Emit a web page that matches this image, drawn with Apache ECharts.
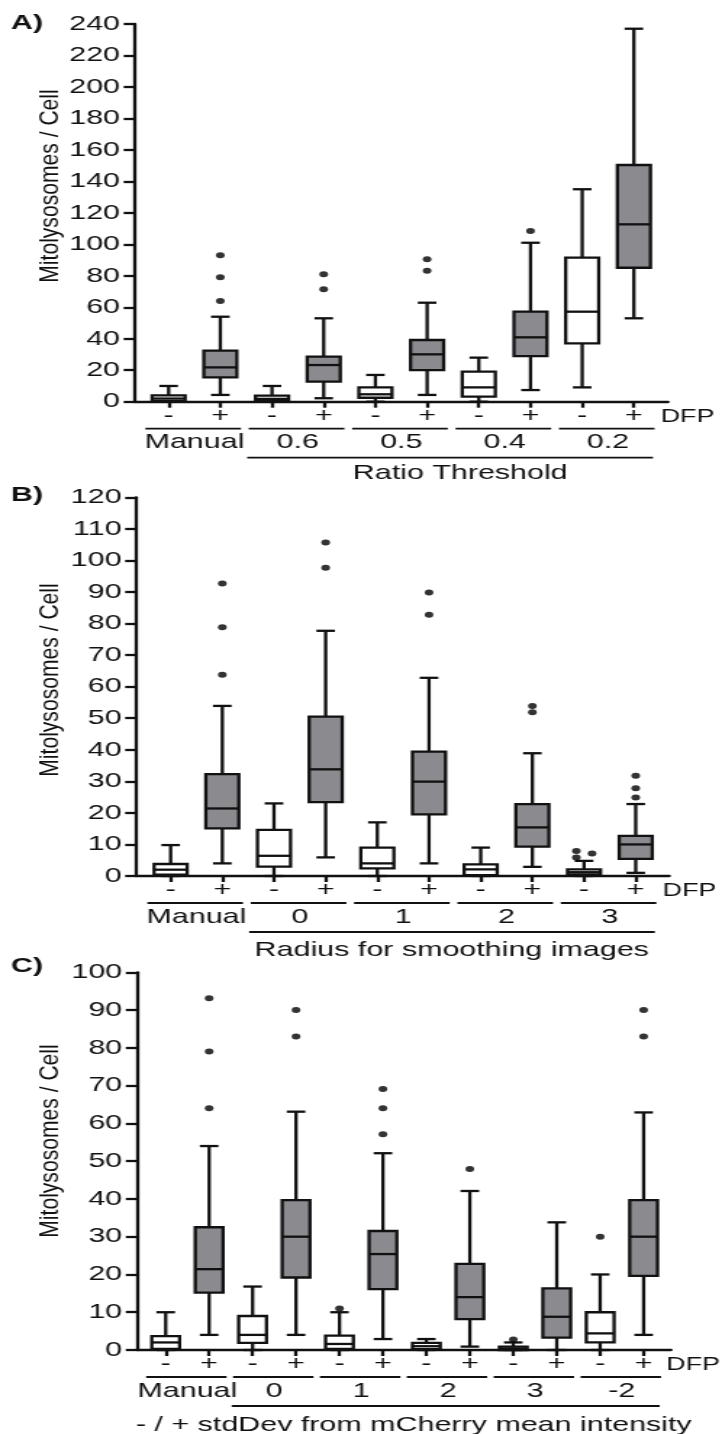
<!DOCTYPE html>
<html>
<head>
<meta charset="utf-8">
<script src="https://cdn.jsdelivr.net/npm/echarts@6/dist/echarts.min.js"></script>
<style>
  html, body { margin: 0; padding: 0; background: #fff; overflow: hidden; }
  #wrap { width: 722px; height: 1434px; overflow: hidden; }
  /* the published figure is stretched sideways; draw narrow and widen it */
  #chart { width: 498px; height: 1434px; transform: scaleX(1.4498); transform-origin: 0 0; }
</style>
</head>
<body>
<div id="wrap"><div id="chart"></div></div>
<script>
// ---- data: box stats are [min, q1, median, q3, max], ordered DFP -, + per group
const GROUPS_A = ['Manual', '0.6', '0.5', '0.4', '0.2'];
const BOXES_A = [
  [0, 0.5, 2, 4, 10],       [4.3, 15.5, 21.8, 32.4, 54],
  [0, 0.5, 1.8, 3.8, 10],   [2.2, 12.7, 23.3, 28.6, 53],
  [0, 2.5, 4.7, 9.1, 17],   [4.3, 20.1, 30.1, 39.2, 62.9],
  [0, 3.2, 9.1, 19.1, 28],  [7.4, 29, 40.9, 57.2, 101],
  [9.1, 37.1, 57.2, 91.5, 135], [53, 85.1, 112.7, 150.4, 237]
];
const OUTLIERS_A = [[1, 93], [1, 79], [1, 64], [3, 81], [3, 71.4], [5, 90.5], [5, 83.2], [7, 108.4]];

const GROUPS_B = ['Manual', '0', '1', '2', '3'];
const BOXES_B = [
  [0, 0.4, 2, 3.8, 9.8],    [4, 15.1, 21.4, 32.3, 53.9],
  [0, 3, 6.4, 14.6, 23],    [5.9, 23.4, 33.8, 50.5, 77.7],
  [0, 2.4, 4, 9, 17],       [4, 19.5, 29.9, 39.4, 62.8],
  [0, 0.3, 2.1, 3.7, 9],    [2.9, 9.3, 15.4, 22.8, 38.9],
  [0, 0.5, 1.2, 2.1, 4.8],  [1, 5.4, 10, 12.7, 22.8]
];
const OUTLIERS_B = [[1, 92.7], [1, 78.8], [1, 63.8], [3, 105.7], [3, 97.7], [5, 89.8], [5, 82.8],
  [7, 53.9], [7, 51.9], [8, 7.9], [8, 7.1], [8, 5.9], [9, 31.8], [9, 27.8], [9, 24.9]];
// side-by-side dots in the crowded "3 -" column (px nudge, not data)
const NUDGE_B = [0, 0, 0, 0, 0, 0, 0, 0, 0, -5.3, 5.5, -5.3, 0, 0, 0];

const GROUPS_C = ['Manual', '0', '1', '2', '3', '-2'];
const BOXES_C = [
  [0, 0.3, 2, 3.7, 10],     [4, 15.2, 21.4, 32.5, 54],
  [0, 1.9, 4, 9, 16.8],     [4, 19.2, 30, 39.7, 63.1],
  [0, 0.3, 1.6, 3.8, 10],   [2.9, 16.1, 25.4, 31.5, 52.1],
  [0, 0.2, 1, 1.9, 2.9],    [0.9, 8.2, 14, 22.8, 42.1],
  [0, 0, 0.4, 0.9, 2],      [0, 3.3, 8.8, 16.3, 33.8],
  [0, 2, 4.4, 10, 20],      [4, 19.6, 30, 39.7, 62.9]
];
const OUTLIERS_C = [[1, 93.1], [1, 79], [1, 64], [3, 90], [3, 83], [4, 11], [5, 69.1], [5, 64], [5, 57.1],
  [7, 47.9], [8, 2.8], [10, 30], [11, 90], [11, 83]];

const Y_TITLE = 'Mitolysosomes / Cell';
const DOSE = ['-', '+'];

// ---- layout (x in widened page px, converted below)
const S = 722 / 498;
const FONT = "'Liberation Sans', Arial, Helvetica, sans-serif";
const INK = '#111';
const GREY = '#8a8a8f';
const LW = 2.3;
const BOX_W = 0.64;   // in category units
const CAP = 6.4;      // half whisker-cap, px
const FS = 21;

const PANELS = [
  { tag: 'A)', groups: GROUPS_A, boxes: BOXES_A, outliers: OUTLIERS_A, nudge: null,
    yMax: 240, step: 20, sub: 'Ratio Threshold', subX: 5.64, subDy: 72,
    top: 24, zero: 401.7, left: 134.5, end: 668, xMin: -0.66, xMax: 9.66, tagY: 23.3, titleY: 186 },
  { tag: 'B)', groups: GROUPS_B, boxes: BOXES_B, outliers: OUTLIERS_B, nudge: NUDGE_B,
    yMax: 120, step: 10, sub: 'Radius for smoothing images', subX: 5.44, subDy: 74,
    top: 497.3, zero: 876, left: 136, end: 669.3, xMin: -0.67, xMax: 9.65, tagY: 495.7, titleY: 680 },
  { tag: 'C)', groups: GROUPS_C, boxes: BOXES_C, outliers: OUTLIERS_C, nudge: null,
    yMax: 100, step: 10, sub: '- / + stdDev from mCherry mean intensity', subX: 5.71, subDy: 75.5,
    top: 972.3, zero: 1350, left: 136.7, end: 671, xMin: -0.667, xMax: 11.63, tagY: 966, titleY: 1141 }
];

function boxItem(params, api) {
  const x = api.value(0);
  const p = k => api.coord([x, api.value(k)]);
  const lo = p(1), q1 = p(2), md = p(3), q3 = p(4), hi = p(5);
  const cx = lo[0];
  const half = api.size([BOX_W, 0])[0] / 2;
  const ln = { stroke: INK, lineWidth: LW };
  return {
    type: 'group',
    children: [
      { type: 'line', shape: { x1: cx, y1: hi[1], x2: cx, y2: q3[1] }, style: ln },
      { type: 'line', shape: { x1: cx, y1: q1[1], x2: cx, y2: lo[1] }, style: ln },
      { type: 'line', shape: { x1: cx - CAP, y1: hi[1], x2: cx + CAP, y2: hi[1] }, style: ln },
      { type: 'line', shape: { x1: cx - CAP, y1: lo[1], x2: cx + CAP, y2: lo[1] }, style: ln },
      { type: 'rect', shape: { x: cx - half, y: q3[1], width: half * 2, height: q1[1] - q3[1] },
        style: { fill: params.dataIndex % 2 ? GREY : '#fff', stroke: INK, lineWidth: LW } },
      { type: 'line', shape: { x1: cx - half, y1: md[1], x2: cx + half, y2: md[1] }, style: ln }
    ]
  };
}

// group underlines + names, then the long rule, its caption and "DFP"
function annotItem(panel) {
  const n = panel.groups.length;
  const last = 2 * n - 1;
  return function (params, api) {
    const y0 = api.coord([0, 0])[1];
    const X = u => api.coord([u, 0])[0];
    const rule = (a, b, y) => ({ type: 'line', shape: { x1: X(a), y1: y, x2: X(b), y2: y },
      style: { stroke: INK, lineWidth: 1.8 } });
    const txt = (text, x, y, align, size) => ({ type: 'text',
      style: { text, x, y, fill: INK, fontSize: size || FS, fontFamily: FONT, align: align || 'center', verticalAlign: 'middle' } });
    const i = params.dataIndex;
    if (i < n) {
      return { type: 'group', children: [
        rule(2 * i - 0.45, 2 * i + 1.4, y0 + 27),
        txt(panel.groups[i], X(2 * i + 0.5), y0 + 41)
      ] };
    }
    return { type: 'group', children: [
      rule(1.52, last + 0.37, y0 + 56),
      txt(panel.sub, X(panel.subX), y0 + panel.subDy),
      txt('DFP', X(last + 0.52), y0 + 15, 'left', 18.5)
    ] };
  };
}

const grid = [], xAxis = [], yAxis = [], series = [], graphic = [];
PANELS.forEach((p, k) => {
  const idx = p.boxes.map((_, i) => i);
  grid.push({ left: p.left / S, right: 498 - p.end / S, top: p.top, height: p.zero - p.top });
  xAxis.push({
    gridIndex: k, type: 'value', min: p.xMin, max: p.xMax,
    splitLine: { show: false },
    axisLine: { onZero: false, lineStyle: { color: INK, width: LW } },
    axisTick: { customValues: idx, length: 6, lineStyle: { color: INK, width: LW } },
    axisLabel: { customValues: idx, formatter: v => DOSE[Math.round(v) % 2], margin: 4,
      color: INK, fontSize: FS, fontFamily: FONT }
  });
  yAxis.push({
    gridIndex: k, type: 'value', min: 0, max: p.yMax, interval: p.step,
    splitLine: { show: false },
    axisLine: { show: true, onZero: false, lineStyle: { color: INK, width: LW } },
    axisTick: { show: true, length: 7.5, lineStyle: { color: INK, width: LW } },
    axisLabel: { margin: 10, color: INK, fontSize: FS, fontFamily: FONT }
  });
  series.push({
    type: 'custom', xAxisIndex: k, yAxisIndex: k, renderItem: boxItem, z: 3,
    encode: { x: 0, y: [1, 2, 3, 4, 5] },
    data: p.boxes.map((b, i) => [i].concat(b))
  });
  series.push({
    type: 'scatter', xAxisIndex: k, yAxisIndex: k, symbolSize: 6, z: 4,
    itemStyle: { color: '#000' },
    data: p.outliers.map((o, i) => (p.nudge && p.nudge[i])
      ? { value: o, symbolOffset: [p.nudge[i], 0] } : o)
  });
  series.push({
    type: 'custom', xAxisIndex: k, yAxisIndex: k, renderItem: annotItem(p), silent: true, z: 5,
    encode: { x: 0, y: 1 },
    data: p.groups.map((_, i) => [2 * i + 0.5, 0]).concat([[0, 0]])
  });
  graphic.push({ type: 'text', x: 7.5, y: p.tagY,
    style: { text: p.tag, fill: INK, fontSize: 21, fontWeight: 'bold', fontFamily: FONT, verticalAlign: 'middle' } });
  graphic.push({ type: 'text', x: 34.8, y: p.titleY, rotation: Math.PI / 2, scaleX: 1.16,
    style: { text: Y_TITLE, fill: INK, fontSize: 18.2, fontFamily: FONT, align: 'center', verticalAlign: 'middle' } });
});

const chart = echarts.init(document.getElementById('chart'));
chart.setOption({
  backgroundColor: '#fff',
  animation: false,
  grid, xAxis, yAxis, series, graphic
});
</script>
</body>
</html>
